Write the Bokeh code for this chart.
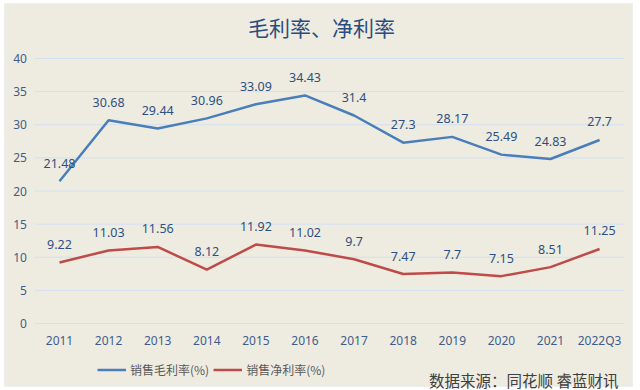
from bokeh.plotting import figure
from bokeh.models import Range1d, Label, Legend, LegendItem, ColumnDataSource, BoxAnnotation
from bokeh.core.properties import value
from bokeh.embed import file_html
from bokeh.resources import INLINE

# ---- data ----
categories = ["2011", "2012", "2013", "2014", "2015", "2016", "2017", "2018",
              "2019", "2020", "2021", "2022Q3"]
gross_margin = [21.48, 30.68, 29.44, 30.96, 33.09, 34.43, 31.4, 27.3, 28.17, 25.49, 24.83, 27.7]
net_margin = [9.22, 11.03, 11.56, 8.12, 11.92, 11.02, 9.7, 7.47, 7.7, 7.15, 8.51, 11.25]
gross_labels = ["21.48", "30.68", "29.44", "30.96", "33.09", "34.43", "31.4", "27.3",
                "28.17", "25.49", "24.83", "27.7"]
net_labels = ["9.22", "11.03", "11.56", "8.12", "11.92", "11.02", "9.7", "7.47",
              "7.7", "7.15", "8.51", "11.25"]
y_ticks = [0, 5, 10, 15, 20, 25, 30, 35, 40]
title_text = "毛利率、净利率"
series_names = ["销售毛利率(%)", "销售净利率(%)"]
source_text = "数据来源：同花顺 睿蓝财讯"

BG = "#EEECE1"
BLUE = "#4A7EBB"
RED = "#BE4B48"
LABEL = "#2F4F80"
AXIS = "#3F5C8A"
FONT = "Noto Sans"
CJK = "Noto Sans CJK SC"

W, H = 640, 390
n = len(categories)
xs = list(range(n))
# pixel layout: category i centred at 59 + 49.1*i, value 40 at y=58 and 0 at y=323
step, x0px = 49.1, 59.0
ppu, y0px = (323 - 58) / 40.0, 323.0
x_range = Range1d(-x0px / step, (W - x0px) / step)
y_range = Range1d(-(H - y0px) / ppu, y0px / ppu)

p = figure(width=W, height=H, x_range=x_range, y_range=y_range,
           output_backend="svg", toolbar_location=None,
           min_border=0, min_border_left=0, min_border_right=0,
           min_border_top=0, min_border_bottom=0)
p.axis.visible = False
p.grid.visible = False
p.background_fill_color = "white"
p.border_fill_color = "white"
p.outline_line_color = None

# chart area (beige panel)
p.add_layout(BoxAnnotation(left=4, right=632, bottom=4, top=387,
                           left_units="screen", right_units="screen",
                           bottom_units="screen", top_units="screen",
                           fill_color=BG, fill_alpha=1, line_color="#D6DEEA", line_width=1,
                           level="underlay"))

# gridlines and y tick labels
left_edge, right_edge = -0.5, n - 0.5
p.segment(x0=[left_edge] * len(y_ticks), x1=[right_edge] * len(y_ticks),
          y0=y_ticks, y1=y_ticks, line_color="#D3E0F1", line_width=1)
p.text(x=[left_edge] * len(y_ticks), y=y_ticks, text=[str(t) for t in y_ticks],
       x_offset=-8, text_align="right", text_baseline="middle",
       text_color=AXIS, text_font=value(FONT), text_font_size="12px")

# x category labels
p.text(x=xs, y=[0] * n, text=categories, y_offset=17, text_align="center",
       text_baseline="middle", text_color=AXIS, text_font=value(FONT),
       text_font_size="12px")

src = ColumnDataSource(dict(x=xs, g=gross_margin, n=net_margin,
                            gl=gross_labels, nl=net_labels))
r1 = p.line("x", "g", source=src, line_color=BLUE, line_width=2.5)
r2 = p.line("x", "n", source=src, line_color=RED, line_width=2.5)

for ycol, tcol in (("g", "gl"), ("n", "nl")):
    p.text("x", ycol, text=tcol, source=src, text_align="center", text_baseline="middle",
           y_offset=-18, text_color=LABEL, text_font=value(FONT), text_font_size="12.5px")

legend = Legend(items=[LegendItem(label=series_names[0], renderers=[r1]),
                       LegendItem(label=series_names[1], renderers=[r2])],
                orientation="horizontal", location=(97, 12), glyph_width=29,
                glyph_height=13, label_standoff=4, spacing=4, padding=0, margin=0,
                label_text_font=CJK, label_text_font_size="12px",
                label_text_color="#595959", background_fill_alpha=0,
                border_line_color=None)
p.add_layout(legend, "center")

p.add_layout(Label(x=321, y=H - 26, x_units="screen", y_units="screen", text=title_text,
                   text_align="center", text_baseline="middle", text_font=CJK,
                   text_font_size="21px", text_color="#2B4C7E"))
p.add_layout(Label(x=618, y=H - 379, x_units="screen", y_units="screen", text=source_text,
                   text_align="right", text_baseline="middle", text_font=CJK,
                   text_font_size="15.5px", text_color="#404040"))

open("out.html", "w").write(file_html(p, INLINE))
